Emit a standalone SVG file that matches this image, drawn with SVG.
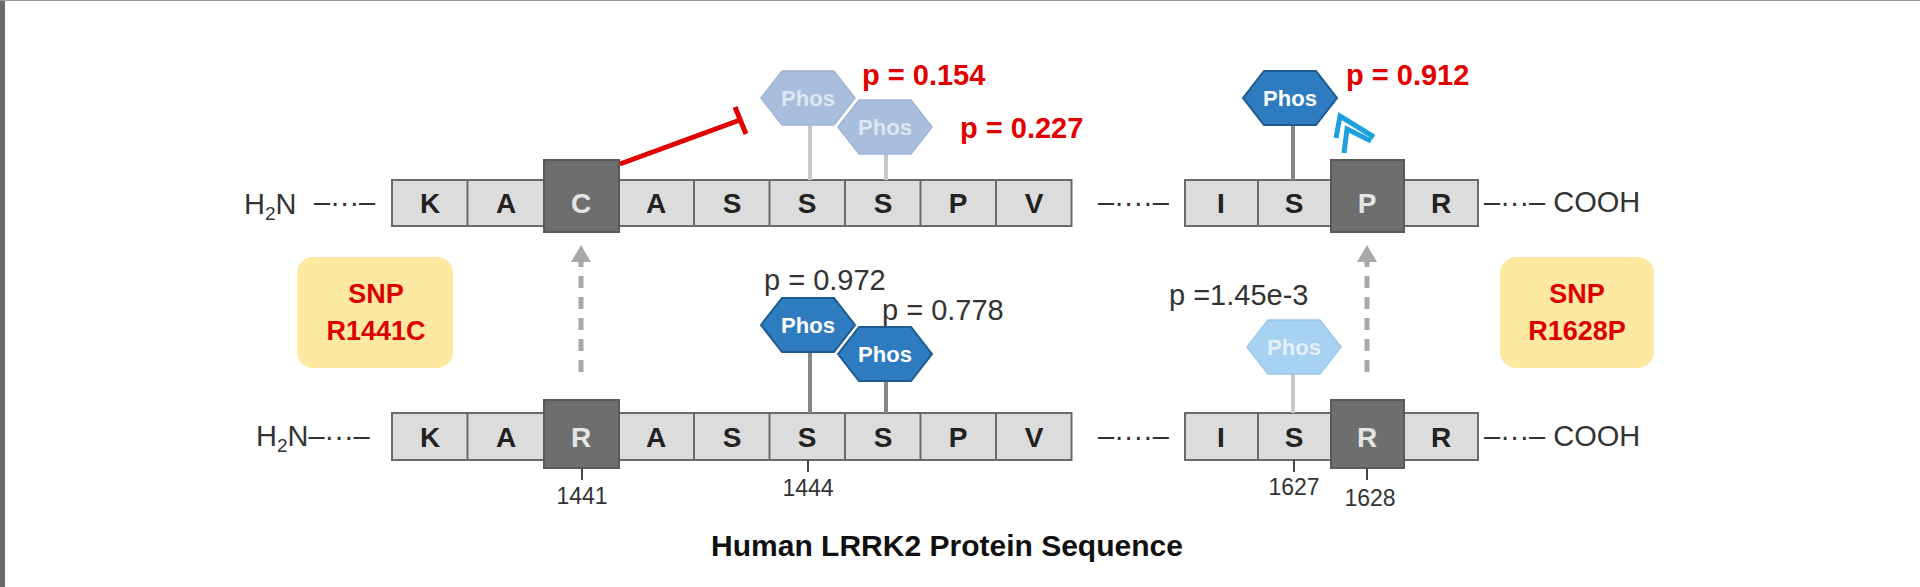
<svg xmlns="http://www.w3.org/2000/svg" width="1920" height="587" viewBox="0 0 1920 587">
<style>
.cell{fill:#dcdcdc;stroke:#6a6a6a;stroke-width:2}
.dark{fill:#6e6e6e;stroke:#5a5a5a;stroke-width:2}
.aa{font-family:"Liberation Sans",Arial,sans-serif;font-weight:bold;font-size:28px;fill:#222;text-anchor:middle}
.aaw{font-family:"Liberation Sans",Arial,sans-serif;font-weight:bold;font-size:28px;fill:#e4e4e4;text-anchor:middle}
.reg{font-family:"Liberation Sans",Arial,sans-serif;font-size:29px;fill:#333}
.num{font-family:"Liberation Sans",Arial,sans-serif;font-size:23px;fill:#333;text-anchor:middle}
.pred{font-family:"Liberation Sans",Arial,sans-serif;font-weight:bold;font-size:29px;fill:#e00000}
.snp{font-family:"Liberation Sans",Arial,sans-serif;font-weight:bold;font-size:27px;fill:#dd0000;text-anchor:middle}
.ph{font-family:"Liberation Sans",Arial,sans-serif;font-weight:bold;font-size:22px;text-anchor:middle}
.hexA{fill:#2e7bbf;stroke:#1d5a90;stroke-width:2}
.hexF{fill:#a9bedd;stroke:#9fb4d4;stroke-width:1.5}
.hexL{fill:#a8d2f2;stroke:#9cc8ea;stroke-width:1.5}
</style>
<defs>
<polygon id="hex" points="-47,0 -26,-27 26,-27 47,0 26,27 -26,27"/>
</defs>
<rect x="0" y="0" width="5" height="587" fill="#6a6a6a"/>
<line x1="0" y1="0.5" x2="1920" y2="0.5" stroke="#999" stroke-width="1"/>

<g id="top-row">
<text class="reg" x="244" y="214">H<tspan font-size="19" dy="6">2</tspan><tspan dy="-6">N</tspan></text>
<text class="reg" x="314" y="212">–···–</text>
<rect class="cell" x="392" y="180" width="679.5" height="46"/>
<g stroke="#6a6a6a" stroke-width="2"><line x1="467.5" y1="180" x2="467.5" y2="226"/><line x1="694" y1="180" x2="694" y2="226"/><line x1="769.5" y1="180" x2="769.5" y2="226"/><line x1="845" y1="180" x2="845" y2="226"/><line x1="920.5" y1="180" x2="920.5" y2="226"/><line x1="996" y1="180" x2="996" y2="226"/></g>
<rect class="dark" x="544" y="160" width="75" height="72"/>
<text class="aa" x="430" y="213">K</text><text class="aa" x="506" y="213">A</text><text class="aaw" x="581" y="213">C</text><text class="aa" x="656" y="213">A</text><text class="aa" x="732" y="213">S</text><text class="aa" x="807" y="213">S</text><text class="aa" x="883" y="213">S</text><text class="aa" x="958" y="213">P</text><text class="aa" x="1034" y="213">V</text>
<text class="reg" x="1098" y="212">–····–</text>
<rect class="cell" x="1185" y="180" width="293" height="46"/>
<line x1="1258" y1="180" x2="1258" y2="226" stroke="#6a6a6a" stroke-width="2"/>
<rect class="dark" x="1331" y="160" width="73" height="72"/>
<text class="aa" x="1221" y="213">I</text><text class="aa" x="1294" y="213">S</text><text class="aaw" x="1367" y="213">P</text><text class="aa" x="1441" y="213">R</text>
<text class="reg" x="1484" y="212">–···– COOH</text>
</g>

<g id="top-phos">
<line x1="810" y1="124" x2="810" y2="180" stroke="#c8c8c8" stroke-width="4"/>
<use href="#hex" class="hexF" x="808" y="98"/><text class="ph" x="808" y="106" fill="#dde6f2">Phos</text>
<line x1="886" y1="152" x2="886" y2="180" stroke="#c8c8c8" stroke-width="4"/>
<use href="#hex" class="hexF" x="885" y="127"/><text class="ph" x="885" y="135" fill="#dde6f2">Phos</text>
<text class="pred" x="862" y="85">p = 0.154</text>
<text class="pred" x="960" y="138">p = 0.227</text>
<line x1="1293" y1="124" x2="1293" y2="180" stroke="#888" stroke-width="4"/>
<use href="#hex" class="hexA" x="1290" y="98"/><text class="ph" x="1290" y="106" fill="#fff">Phos</text>
<text class="pred" x="1346" y="85">p = 0.912</text>
</g>

<g id="bottom-row">
<text class="reg" x="256" y="446">H<tspan font-size="19" dy="6">2</tspan><tspan dy="-6">N</tspan>–···–</text>
<rect class="cell" x="392" y="413" width="679.5" height="47"/>
<g stroke="#6a6a6a" stroke-width="2"><line x1="467.5" y1="413" x2="467.5" y2="460"/><line x1="694" y1="413" x2="694" y2="460"/><line x1="769.5" y1="413" x2="769.5" y2="460"/><line x1="845" y1="413" x2="845" y2="460"/><line x1="920.5" y1="413" x2="920.5" y2="460"/><line x1="996" y1="413" x2="996" y2="460"/></g>
<rect class="dark" x="544" y="400" width="75" height="68"/>
<text class="aa" x="430" y="447">K</text><text class="aa" x="506" y="447">A</text><text class="aaw" x="581" y="447">R</text><text class="aa" x="656" y="447">A</text><text class="aa" x="732" y="447">S</text><text class="aa" x="807" y="447">S</text><text class="aa" x="883" y="447">S</text><text class="aa" x="958" y="447">P</text><text class="aa" x="1034" y="447">V</text>
<text class="reg" x="1098" y="446">–····–</text>
<rect class="cell" x="1185" y="413" width="293" height="47"/>
<line x1="1258" y1="413" x2="1258" y2="460" stroke="#6a6a6a" stroke-width="2"/>
<rect class="dark" x="1331" y="400" width="73" height="68"/>
<text class="aa" x="1221" y="447">I</text><text class="aa" x="1294" y="447">S</text><text class="aaw" x="1367" y="447">R</text><text class="aa" x="1441" y="447">R</text>
<text class="reg" x="1484" y="446">–···– COOH</text>
<g stroke="#444" stroke-width="2"><line x1="582" y1="468" x2="582" y2="480"/><line x1="808" y1="460" x2="808" y2="472"/><line x1="1294" y1="460" x2="1294" y2="472"/><line x1="1367" y1="468" x2="1367" y2="480"/></g>
<text class="num" x="582" y="504">1441</text><text class="num" x="808" y="496">1444</text><text class="num" x="1294" y="495">1627</text><text class="num" x="1370" y="506">1628</text>
</g>

<g id="bottom-phos">
<line x1="810" y1="350" x2="810" y2="413" stroke="#888" stroke-width="4"/>
<use href="#hex" class="hexA" x="808" y="325"/><text class="ph" x="808" y="333" fill="#fff">Phos</text>
<line x1="886" y1="380" x2="886" y2="413" stroke="#888" stroke-width="4"/>
<use href="#hex" class="hexA" x="885" y="354"/><text class="ph" x="885" y="362" fill="#fff">Phos</text>
<text class="reg" x="764" y="290">p = 0.972</text>
<text class="reg" x="882" y="320">p = 0.778</text>
<line x1="1293" y1="372" x2="1293" y2="413" stroke="#c8c8c8" stroke-width="4"/>
<use href="#hex" class="hexL" x="1294" y="347"/><text class="ph" x="1294" y="355" fill="#e4f1fb">Phos</text>
<text class="reg" x="1169" y="305">p =1.45e-3</text>
</g>

<g id="snp-left"><rect x="297" y="257" width="156" height="111" rx="16" fill="#fde9a2"/><text class="snp" x="376" y="303">SNP</text><text class="snp" x="376" y="340">R1441C</text></g>
<g id="snp-right"><rect x="1500" y="257" width="154" height="111" rx="16" fill="#fde9a2"/><text class="snp" x="1577" y="303">SNP</text><text class="snp" x="1577" y="340">R1628P</text></g>

<g id="connectors">
<line x1="581" y1="372" x2="581" y2="262" stroke="#a8a8a8" stroke-width="5" stroke-dasharray="12,9"/>
<polygon points="571,262 591,262 581,245" fill="#a8a8a8"/>
<line x1="1367" y1="372" x2="1367" y2="262" stroke="#a8a8a8" stroke-width="5" stroke-dasharray="12,9"/>
<polygon points="1357,262 1377,262 1367,245" fill="#a8a8a8"/>
<line x1="620" y1="164" x2="740" y2="120" stroke="#e00000" stroke-width="5"/>
<line x1="735" y1="107" x2="746" y2="134" stroke="#e00000" stroke-width="5"/>
<polyline points="1336,138 1340,116 1374,137" fill="none" stroke="#1ea0e0" stroke-width="5"/>
<polyline points="1344,153 1347,129 1371,141" fill="none" stroke="#1ea0e0" stroke-width="5"/>
</g>

<text x="947" y="556" font-family="'Liberation Sans',Arial,sans-serif" font-weight="bold" font-size="30" fill="#111" text-anchor="middle">Human LRRK2 Protein Sequence</text>
</svg>
